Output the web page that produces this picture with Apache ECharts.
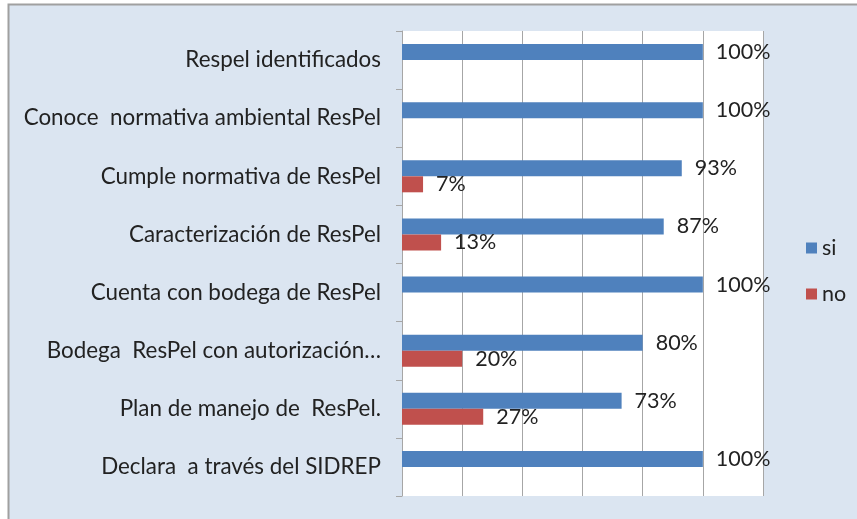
<!DOCTYPE html>
<html>
<head>
<meta charset="utf-8">
<script src="https://cdn.jsdelivr.net/npm/echarts@6/dist/echarts.min.js"></script>
<style>
  html, body { margin: 0; padding: 0; background: #fff; }
  #chart { width: 857px; height: 519px; }
</style>
</head>
<body>
<div id="chart"></div>
<script>
const categories = [
  'Respel identificados',
  'Conoce  normativa ambiental ResPel',
  'Cumple normativa de ResPel',
  'Caracterización de ResPel',
  'Cuenta con bodega de ResPel',
  'Bodega  ResPel con autorización…',
  'Plan de manejo de  ResPel.',
  'Declara  a través del SIDREP'
];
const siValues = [100, 100, 93, 87, 100, 80, 73, 100];
const noValues = [null, null, 7, 13, null, 20, 27, null];

const font = 'Lato, "Open Sans", sans-serif';
const textColor = '#222';
const gridColor = '#a6a6a6';

const chart = echarts.init(document.getElementById('chart'));

const label = {
  show: true,
  position: 'right',
  distance: 13,
  formatter: '{c}%',
  color: textColor,
  fontFamily: font,
  fontSize: 21.5
};

chart.setOption({
  backgroundColor: '#fff',
  animation: false,
  graphic: [
    {
      type: 'rect',
      silent: true,
      z: -10,
      shape: {x: 8.5, y: 4.5, width: 860, height: 530},
      style: {fill: '#dbe5f1', stroke: '#a0a0a0', lineWidth: 2}
    }
  ],
  grid: {
    left: 402,
    right: 94,
    top: 31,
    bottom: 23,
    show: true,
    backgroundColor: '#fff',
    borderWidth: 0
  },
  legend: {
    orient: 'vertical',
    left: 801,
    top: 232,
    itemWidth: 11,
    itemHeight: 11,
    itemGap: 24,
    icon: 'rect',
    textStyle: {
      color: textColor,
      fontFamily: font,
      fontSize: 21.5,
      lineHeight: 20
    },
    data: ['si', 'no']
  },
  xAxis: {
    type: 'value',
    min: 0,
    max: 120,
    interval: 20,
    axisLine: {show: false},
    axisTick: {show: false},
    axisLabel: {show: false},
    splitLine: {show: true, lineStyle: {color: gridColor, width: 1}}
  },
  yAxis: {
    type: 'category',
    inverse: true,
    data: categories,
    axisLine: {show: true, lineStyle: {color: gridColor, width: 1}},
    axisTick: {show: true, length: 6, lineStyle: {color: gridColor}},
    axisLabel: {
      color: textColor,
      fontFamily: font,
      fontSize: 22.4,
      margin: 21
    }
  },
  series: [
    {
      name: 'si',
      type: 'bar',
      data: siValues,
      barWidth: 16,
      barGap: '0%',
      itemStyle: {color: '#4f81bd'},
      label: label
    },
    {
      name: 'no',
      type: 'bar',
      data: noValues,
      barWidth: 16,
      barGap: '0%',
      itemStyle: {color: '#c0504d'},
      label: label
    }
  ]
});
</script>
</body>
</html>
